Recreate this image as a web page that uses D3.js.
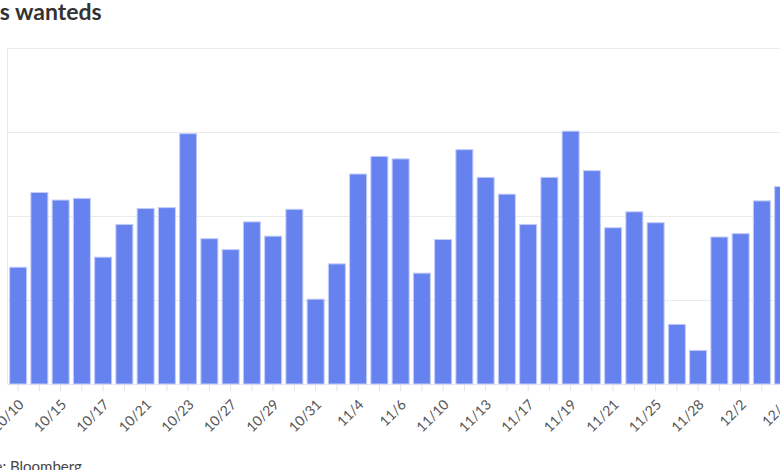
<!DOCTYPE html>
<html>
<head>
<meta charset="utf-8">
<script src="https://cdn.jsdelivr.net/npm/d3@7"></script>
<style>
  html, body { margin: 0; padding: 0; background: #fff; overflow: hidden; }
  svg { display: block; }
  text { font-family: Lato, "Noto Sans", sans-serif; }
</style>
</head>
<body>
<svg id="chart" width="780" height="470"></svg>
<script>
// Dates (trading days) shown as bar categories
const dates = ["10/10","10/14","10/15","10/16","10/17","10/20","10/21","10/22","10/23","10/24",
  "10/27","10/28","10/29","10/30","10/31","11/3","11/4","11/5","11/6","11/7",
  "11/10","11/12","11/13","11/14","11/17","11/18","11/19","11/20","11/21","11/24",
  "11/25","11/26","11/28","12/1","12/2","12/3","12/4"];
// Values (grid step = 100)
const values = [139,228,219,221,151,190,209,210,298,173,
  160,193,176,208,101,143,250,271,268,132,
  172,279,246,226,190,246,301,254,186,205,
  192,71,40,175,179,218,235];
const yTicks = [0,100,200,300,400];
const titleText = "s wanteds";
const sourceText = "Source: Bloomberg";

(function () {
const svg = d3.select("#chart");
const plotLeft = 7.5, plotTop = 48, plotBottom = 384;
const n = dates.length;
const step = 21.25;
const x = d3.scaleBand().domain(dates)
  .range([plotLeft, plotLeft + step * n])
  .paddingInner(0.2).paddingOuter(0.1);
const y = d3.scaleLinear().domain([0, 400]).range([plotBottom, plotTop]);

// gridlines
const yAxis = d3.axisLeft(y).tickValues(yTicks).tickSize(-(x.range()[1] - plotLeft)).tickFormat("");
const gy = svg.append("g").attr("transform", `translate(${plotLeft},0)`).call(yAxis);
gy.select(".domain").remove();
gy.selectAll(".tick line").attr("stroke", "#ebebeb").attr("stroke-width", 1);

// left vertical line
svg.append("line").attr("x1", plotLeft).attr("x2", plotLeft).attr("y1", plotTop).attr("y2", plotBottom)
  .attr("stroke", "#e6e6e6").attr("stroke-width", 1);

// bars
svg.append("g").selectAll("rect").data(dates).join("rect")
  .attr("x", d => x(d))
  .attr("width", x.bandwidth())
  .attr("y", (d, i) => y(values[i]))
  .attr("height", (d, i) => y(0) - y(values[i]))
  .attr("fill", "#6582ef")
  .attr("stroke", "#c3cdfa")
  .attr("stroke-width", 1);

// x axis
const xAxis = d3.axisBottom(x).tickSize(7).tickSizeOuter(0)
  .tickFormat((d, i) => i % 2 === 0 ? d : "");
const gx = svg.append("g").attr("transform", `translate(0,${plotBottom + 0.5})`).call(xAxis);
gx.select(".domain").remove();
gx.selectAll(".tick line").attr("stroke", "#e3e3e3");
gx.selectAll(".tick text")
  .attr("font-size", 14)
  .attr("fill", "#555")
  .attr("text-anchor", "end")
  .attr("dy", 0)
  .attr("y", 0)
  .attr("transform", "translate(6.5,21) rotate(-45)");

// title
const t = svg.append("text").attr("y", 19.5).attr("font-size", 23).attr("font-weight", 700)
  .attr("fill", "#333").text(titleText);
const off = t.node().getSubStringLength(0, 2);
t.attr("x", 15 - off);

// source
const s = svg.append("text").attr("y", 472).attr("font-size", 15).attr("fill", "#444").text(sourceText);
const soff = s.node().getSubStringLength(0, 8);
s.attr("x", 10 - soff);
})();
</script>
</body>
</html>
